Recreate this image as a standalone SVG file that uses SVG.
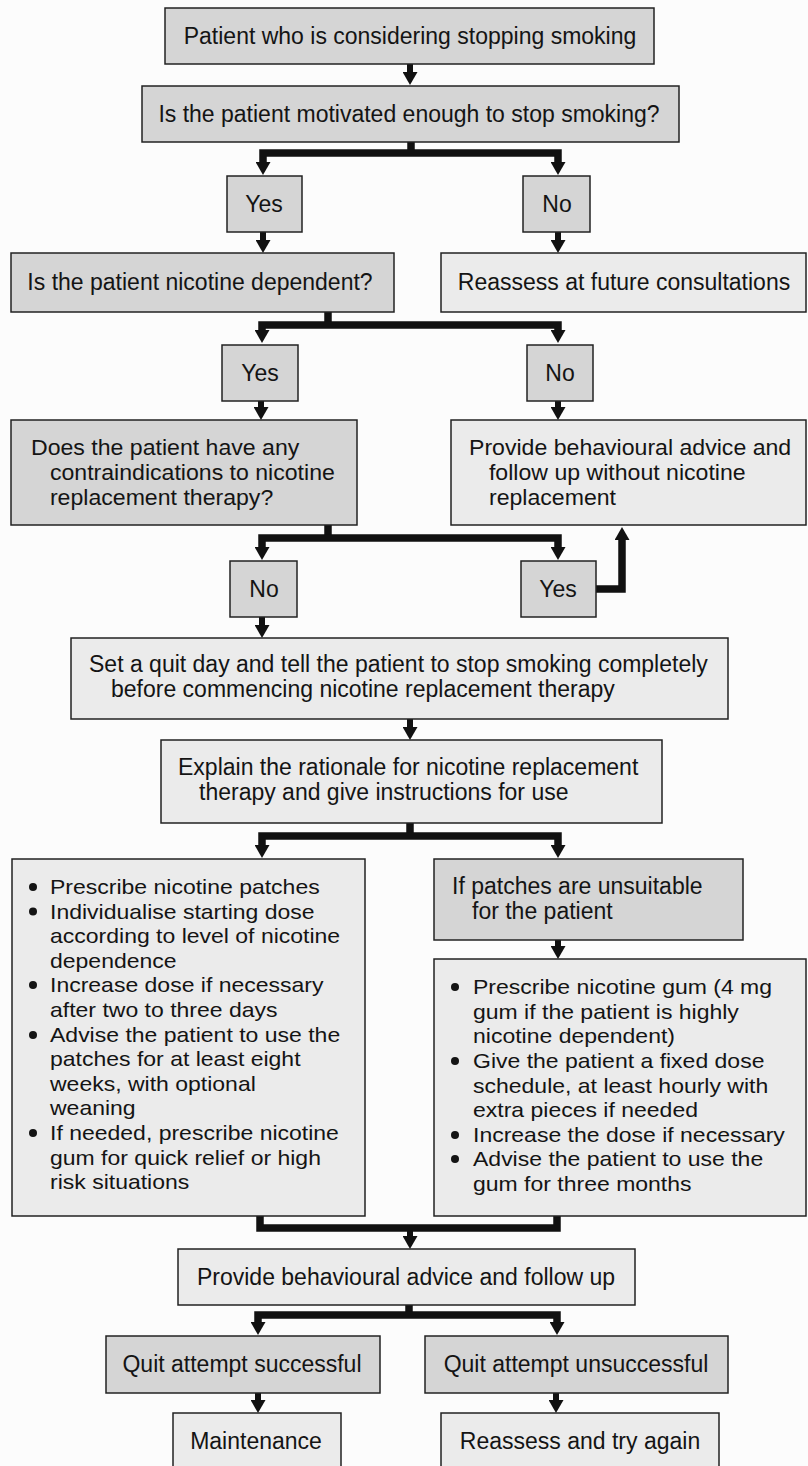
<svg xmlns="http://www.w3.org/2000/svg" width="808" height="1466" viewBox="0 0 808 1466">
<defs>
<style>
.bx{stroke:#222;stroke-width:1.5}
.dk{fill:#d5d5d5}
.lt{fill:#ebebeb}
.t{font-family:"Liberation Sans",Arial,Helvetica,sans-serif;font-size:23px;fill:#141414}
.m{font-size:22px}
.c{text-anchor:middle}
.b{font-size:20px}
.cn{fill:none;stroke:#111;stroke-linejoin:miter}
.s6{stroke-width:6}
.s7{stroke-width:7.5}
.ar{marker-end:url(#ah)}
.ar2{marker-start:url(#ah);marker-end:url(#ah)}
.dot{fill:#141414}
</style>
<marker id="ah" viewBox="0 0 13 15" refX="0" refY="7.5" markerWidth="13" markerHeight="15" markerUnits="userSpaceOnUse" orient="auto-start-reverse">
<path d="M0,0 L13,7.5 L0,15 z" fill="#111"/>
</marker>
</defs>
<rect x="0" y="0" width="808" height="1466" fill="#fcfcfc"/>

<g id="connectors">
<path class="cn s6 ar" d="M410,64 V72"/>
<path class="cn s7" d="M411,142 V153"/>
<path class="cn s7 ar2" d="M263,162 V153 H558 V162"/>
<path class="cn s6 ar" d="M263,232 V240"/>
<path class="cn s6 ar" d="M558,232 V240"/>
<path class="cn s7" d="M328,312 V325"/>
<path class="cn s7 ar2" d="M262,330 V325 H558 V330"/>
<path class="cn s6 ar" d="M261,401 V407"/>
<path class="cn s6 ar" d="M558,401 V407"/>
<path class="cn s7" d="M328,525 V538"/>
<path class="cn s7 ar2" d="M262,547 V538 H558 V547"/>
<path class="cn s6 ar" d="M262,617 V625"/>
<path class="cn s7 ar" d="M596,589 H622 V540"/>
<path class="cn s6 ar" d="M410,719 V727"/>
<path class="cn s7" d="M410,823 V836"/>
<path class="cn s7 ar2" d="M262,845 V836 H558 V845"/>
<path class="cn s6 ar" d="M558,940 V946"/>
<path class="cn s7" d="M260,1216 V1228 H557 V1216"/>
<path class="cn s6 ar" d="M410,1228 V1236"/>
<path class="cn s7" d="M409,1305 V1315"/>
<path class="cn s7 ar2" d="M258,1322 V1315 H557 V1322"/>
<path class="cn s6 ar" d="M258,1393 V1400"/>
<path class="cn s6 ar" d="M556,1393 V1400"/>
</g>

<g id="n-start">
<rect class="bx dk" x="165" y="8" width="489" height="56"/>
<text class="t c" x="410" y="44">Patient who is considering stopping smoking</text>
</g>
<g id="n-motivated">
<rect class="bx dk" x="142" y="86" width="537" height="56"/>
<text class="t c" x="409" y="122">Is the patient motivated enough to stop smoking?</text>
</g>
<g id="n-yes1">
<rect class="bx dk" x="227" y="176" width="75" height="56"/>
<text class="t c" x="264" y="212">Yes</text>
</g>
<g id="n-no1">
<rect class="bx dk" x="523" y="176" width="67" height="56"/>
<text class="t c" x="557" y="212">No</text>
</g>
<g id="n-dependent">
<rect class="bx dk" x="11" y="253" width="383" height="59"/>
<text class="t c" x="200" y="290">Is the patient nicotine dependent?</text>
</g>
<g id="n-reassess1">
<rect class="bx lt" x="441" y="253" width="365" height="59"/>
<text class="t c" x="624" y="290">Reassess at future consultations</text>
</g>
<g id="n-yes2">
<rect class="bx dk" x="222" y="345" width="76" height="56"/>
<text class="t c" x="260" y="381">Yes</text>
</g>
<g id="n-no2">
<rect class="bx dk" x="527" y="345" width="66" height="56"/>
<text class="t c" x="560" y="381">No</text>
</g>
<g id="n-contra">
<rect class="bx dk" x="11" y="420" width="346" height="105"/>
<g transform="translate(31 0) scale(1.05 1)">
<text class="t m" x="0" y="455">Does the patient have any</text>
<text class="t m" x="18" y="480">contraindications to nicotine</text>
<text class="t m" x="18" y="505">replacement therapy?</text>
</g>
</g>
<g id="n-behav1">
<rect class="bx lt" x="451" y="420" width="355" height="105"/>
<g transform="translate(469 0) scale(1.05 1)">
<text class="t m" x="0" y="455">Provide behavioural advice and</text>
<text class="t m" x="19" y="480">follow up without nicotine</text>
<text class="t m" x="19" y="505">replacement</text>
</g>
</g>
<g id="n-no3">
<rect class="bx dk" x="230" y="561" width="67" height="56"/>
<text class="t c" x="264" y="597">No</text>
</g>
<g id="n-yes3">
<rect class="bx dk" x="521" y="561" width="75" height="56"/>
<text class="t c" x="558" y="597">Yes</text>
</g>
<g id="n-quitday">
<rect class="bx lt" x="71" y="638" width="657" height="81"/>
<text class="t" x="89" y="672">Set a quit day and tell the patient to stop smoking completely</text>
<text class="t" x="111" y="697">before commencing nicotine replacement therapy</text>
</g>
<g id="n-explain">
<rect class="bx lt" x="161" y="740" width="501" height="83"/>
<text class="t" x="178" y="775">Explain the rationale for nicotine replacement</text>
<text class="t" x="199" y="800">therapy and give instructions for use</text>
</g>
<g id="n-patches">
<rect class="bx lt" x="12" y="859" width="353" height="357"/>
<circle class="dot" cx="33" cy="887" r="4"/>
<circle class="dot" cx="33" cy="911.6" r="4"/>
<circle class="dot" cx="33" cy="985" r="4"/>
<circle class="dot" cx="33" cy="1035" r="4"/>
<circle class="dot" cx="33" cy="1133" r="4"/>
<g transform="translate(50 0) scale(1.15 1)">
<text class="t b" x="0" y="894">Prescribe nicotine patches</text>
<text class="t b" x="0" y="918.6">Individualise starting dose</text>
<text class="t b" x="0" y="943">according to level of nicotine</text>
<text class="t b" x="0" y="968">dependence</text>
<text class="t b" x="0" y="992">Increase dose if necessary</text>
<text class="t b" x="0" y="1017">after two to three days</text>
<text class="t b" x="0" y="1042">Advise the patient to use the</text>
<text class="t b" x="0" y="1066">patches for at least eight</text>
<text class="t b" x="0" y="1091">weeks, with optional</text>
<text class="t b" x="0" y="1115">weaning</text>
<text class="t b" x="0" y="1140">If needed, prescribe nicotine</text>
<text class="t b" x="0" y="1165">gum for quick relief or high</text>
<text class="t b" x="0" y="1189">risk situations</text>
</g>
</g>
<g id="n-unsuitable">
<rect class="bx dk" x="434" y="859" width="309" height="81"/>
<text class="t" x="452" y="894">If patches are unsuitable</text>
<text class="t" x="472" y="919">for the patient</text>
</g>
<g id="n-gum">
<rect class="bx lt" x="434" y="959" width="372" height="257"/>
<circle class="dot" cx="455" cy="987" r="4"/>
<circle class="dot" cx="455" cy="1061" r="4"/>
<circle class="dot" cx="455" cy="1135" r="4"/>
<circle class="dot" cx="455" cy="1159" r="4"/>
<g transform="translate(473 0) scale(1.15 1)">
<text class="t b" x="0" y="994">Prescribe nicotine gum (4 mg</text>
<text class="t b" x="0" y="1019">gum if the patient is highly</text>
<text class="t b" x="0" y="1043">nicotine dependent)</text>
<text class="t b" x="0" y="1068">Give the patient a fixed dose</text>
<text class="t b" x="0" y="1093">schedule, at least hourly with</text>
<text class="t b" x="0" y="1117">extra pieces if needed</text>
<text class="t b" x="0" y="1142">Increase the dose if necessary</text>
<text class="t b" x="0" y="1166">Advise the patient to use the</text>
<text class="t b" x="0" y="1191">gum for three months</text>
</g>
</g>
<g id="n-behav2">
<rect class="bx lt" x="178" y="1249" width="457" height="56"/>
<text class="t c" x="406" y="1285">Provide behavioural advice and follow up</text>
</g>
<g id="n-success">
<rect class="bx dk" x="106" y="1336" width="274" height="57"/>
<text class="t c" x="242" y="1372">Quit attempt successful</text>
</g>
<g id="n-unsuccess">
<rect class="bx dk" x="425" y="1336" width="303" height="57"/>
<text class="t c" x="576" y="1372">Quit attempt unsuccessful</text>
</g>
<g id="n-maint">
<rect class="bx lt" x="173" y="1413" width="168" height="60"/>
<text class="t c" x="256" y="1449">Maintenance</text>
</g>
<g id="n-tryagain">
<rect class="bx lt" x="441" y="1413" width="278" height="60"/>
<text class="t c" x="580" y="1449">Reassess and try again</text>
</g>
</svg>
